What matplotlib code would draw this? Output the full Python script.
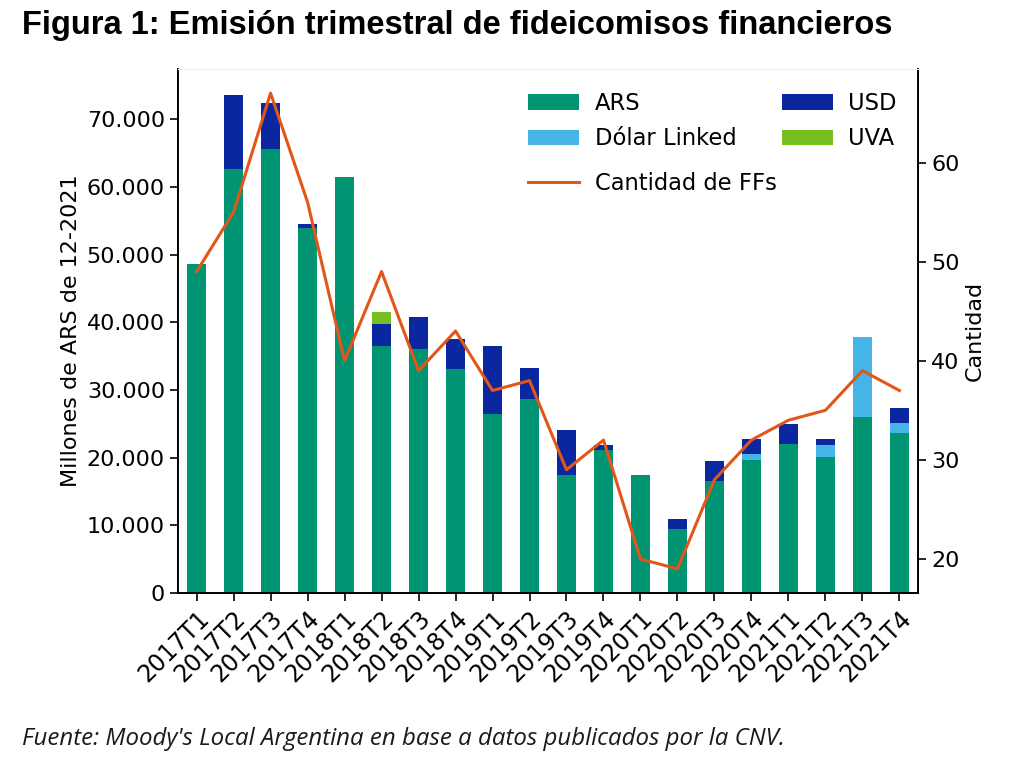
import numpy as np
import matplotlib.pyplot as plt

# Quarterly issuance of financial trusts (millions of ARS, 12-2021)
quarters = ['2017T1', '2017T2', '2017T3', '2017T4',
            '2018T1', '2018T2', '2018T3', '2018T4',
            '2019T1', '2019T2', '2019T3', '2019T4',
            '2020T1', '2020T2', '2020T3', '2020T4',
            '2021T1', '2021T2', '2021T3', '2021T4']
ars = [48600, 62600, 65700, 54000, 61500, 36500, 36100, 33100, 26400, 28700,
       17400, 21200, 17400, 9400, 16600, 19700, 22000, 20100, 26000, 23700]
dolar_linked = [0, 0, 0, 0, 0, 0, 0, 0, 0, 0,
                0, 0, 0, 0, 0, 800, 0, 1800, 11800, 1500]
usd = [0, 11000, 6700, 600, 0, 3200, 4700, 4400, 10100, 4500,
       6700, 700, 0, 1600, 2900, 2200, 3000, 800, 0, 2100]
uva = [0, 0, 0, 0, 0, 1900, 0, 0, 0, 0,
       0, 0, 0, 0, 0, 0, 0, 0, 0, 0]
cantidad = [49, 55, 67, 56, 40, 49, 39, 43, 37, 38,
            29, 32, 20, 19, 28, 32, 34, 35, 39, 37]

c_ars = '#009473'
c_usd = '#0a27a0'
c_dl = '#45b4e6'
c_uva = '#78be20'
c_line = '#e2561a'

plt.rcParams['font.family'] = 'DejaVu Sans'

fig = plt.figure(figsize=(10.12, 7.7), dpi=100)
ax = fig.add_axes([0.176, 0.2299, 0.731, 0.680])

x = np.arange(len(quarters))
ars = np.array(ars)
dl = np.array(dolar_linked)
usd = np.array(usd)
uva = np.array(uva)

w = 0.5
b1 = ax.bar(x, ars, w, color=c_ars, label='ARS')
b2 = ax.bar(x, dl, w, bottom=ars, color=c_dl, label='Dólar Linked')
b3 = ax.bar(x, usd, w, bottom=ars + dl, color=c_usd, label='USD')
b4 = ax.bar(x, uva, w, bottom=ars + dl + usd, color=c_uva, label='UVA')

ax.set_xlim(-0.5, 19.5)
ax.set_ylim(0, 77400)
ax.set_yticks(np.arange(0, 70001, 10000))
ax.set_yticklabels([f'{int(v):,}'.replace(',', '.') for v in np.arange(0, 70001, 10000)])
ax.set_xticks(x)
ax.set_xticklabels(quarters, rotation=45, ha='right', rotation_mode='anchor')
ax.tick_params(labelsize=16, length=6, width=1.2)
ax.tick_params(axis='x', labelsize=17)
ax.set_ylabel('Millones de ARS de 12-2021', fontsize=16)

ax2 = ax.twinx()
l1, = ax2.plot(x, cantidad, color=c_line, lw=2.2, label='Cantidad de FFs')
ax2.set_ylim(16.57, 69.4)
ax2.set_yticks([20, 30, 40, 50, 60])
ax2.tick_params(labelsize=16, length=6, width=1.2)
ax2.set_ylabel('Cantidad', fontsize=16)

for a in (ax, ax2):
    a.spines['top'].set_color('#eeeeee')
    for s in ('left', 'right', 'bottom'):
        a.spines[s].set_linewidth(1.2)

leg_kw = dict(frameon=False, fontsize=16.3, handlelength=2.27, handletextpad=0.68,
              borderpad=0, borderaxespad=0, bbox_transform=fig.transFigure,
              loc='upper left')
leg1 = ax2.legend([b1, b2, b3, b4], ['ARS', 'Dólar Linked', 'USD', 'UVA'],
                  ncol=2, columnspacing=2.0, labelspacing=0.55,
                  bbox_to_anchor=(528 / 1012, 1 - 92 / 770), **leg_kw)
ax2.add_artist(leg1)
ax2.legend([l1], ['Cantidad de FFs'],
           bbox_to_anchor=(528 / 1012, 1 - 172 / 770), **leg_kw)

fig.text(0.022, 1 - 34 / 770, 'Figura 1: Emisión trimestral de fideicomisos financieros',
         fontsize=23.5, fontweight='bold', family='Liberation Sans', va='baseline')
fig.text(0.022, 1 - 745 / 770,
         "Fuente: Moody's Local Argentina en base a datos publicados por la CNV.",
         fontsize=17.3, style='italic', family='Open Sans', color='#1a1a1a', va='baseline')

fig.savefig('out.png', dpi=100)
